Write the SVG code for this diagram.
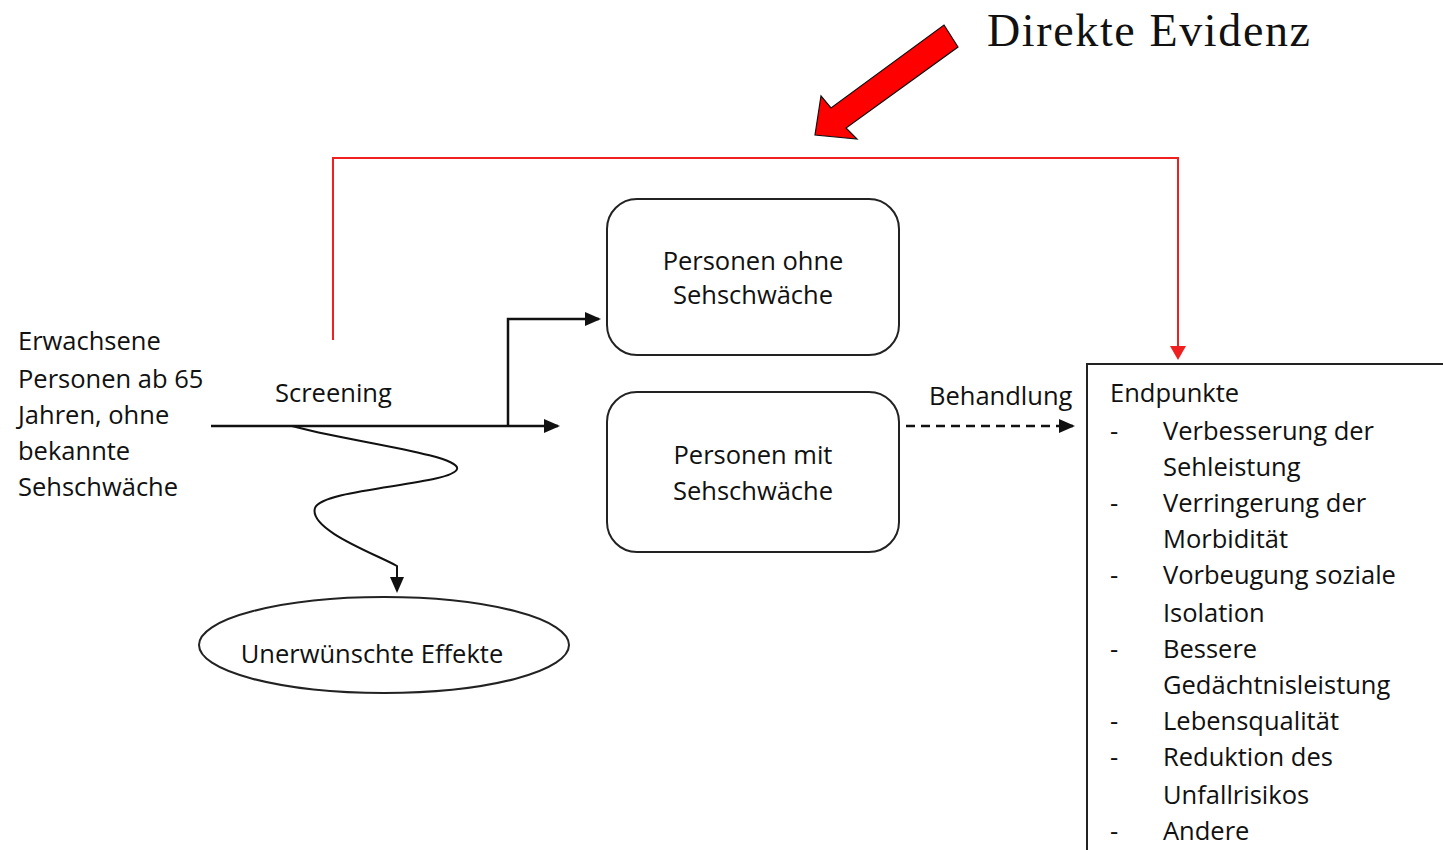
<svg xmlns="http://www.w3.org/2000/svg" width="1443" height="850" viewBox="0 0 1443 850">
<defs>
<style>
.t{font-family:"Open Sans","Liberation Sans",sans-serif;font-size:25.5px;fill:#111}
.c{text-anchor:middle}
.ln{fill:none;stroke:#111;stroke-width:2.5}
.box{fill:#fff;stroke:#222;stroke-width:2}
.red{fill:none;stroke:#f02020;stroke-width:2}
</style>
<marker id="ah" markerWidth="16" markerHeight="14" refX="14" refY="7" orient="auto" markerUnits="userSpaceOnUse"><path d="M0,0 L16,7 L0,14 Z" fill="#111"/></marker>
<marker id="rh" markerWidth="14" markerHeight="16" refX="12" refY="8" orient="auto" markerUnits="userSpaceOnUse"><path d="M0,0 L14,8 L0,16 Z" fill="#f02020"/></marker>
</defs>
<rect width="1443" height="850" fill="#fff"/>
<g id="title">
<polygon points="944,25 958,47 846,128 857,139 815,135 821,96 831,108" fill="#ff0000" stroke="#111" stroke-width="1.2"/>
<text x="987" y="46" font-family="'Liberation Serif',serif" font-size="46" textLength="323" fill="#111">Direkte Evidenz</text>
</g>
<g id="connectors">
<path class="red" d="M333,340 V158 H1178 V358" marker-end="url(#rh)"/>
<path class="ln" d="M211,426 H558" marker-end="url(#ah)"/>
<path class="ln" d="M508,426 V319 H599" marker-end="url(#ah)"/>
<path fill="none" stroke="#111" stroke-width="2" d="M292,426 C340,440 462,455 457,469 C452,485 322,488 315,508 C308,530 378,555 397,566 V591" marker-end="url(#ah)"/>
<path class="ln" d="M906,426 H1073" stroke-dasharray="9,6" marker-end="url(#ah)"/>
<text class="t" x="275" y="402">Screening</text>
<text class="t" x="929" y="405">Behandlung</text>
</g>
<g id="population">
<text class="t" x="18" y="350">Erwachsene</text>
<text class="t" x="18" y="388">Personen ab 65</text>
<text class="t" x="18" y="424">Jahren, ohne</text>
<text class="t" x="18" y="460">bekannte</text>
<text class="t" x="18" y="496">Sehschwäche</text>
</g>
<g id="ohne">
<rect class="box" x="607" y="199" width="292" height="156" rx="30"/>
<text class="t c" x="753" y="270">Personen ohne</text>
<text class="t c" x="753" y="304">Sehschwäche</text>
</g>
<g id="mit">
<rect class="box" x="607" y="392" width="292" height="160" rx="30"/>
<text class="t c" x="753" y="464">Personen mit</text>
<text class="t c" x="753" y="500">Sehschwäche</text>
</g>
<g id="effekte">
<ellipse class="box" cx="384" cy="645" rx="185" ry="48"/>
<text class="t c" x="372" y="663">Unerwünschte Effekte</text>
</g>
<g id="endpunkte">
<rect class="box" x="1087" y="364" width="370" height="500"/>
<text class="t" x="1110" y="402">Endpunkte</text>
<text class="t" x="1110" y="440">-</text><text class="t" x="1163" y="440">Verbesserung der</text>
<text class="t" x="1163" y="476">Sehleistung</text>
<text class="t" x="1110" y="512">-</text><text class="t" x="1163" y="512">Verringerung der</text>
<text class="t" x="1163" y="548">Morbidität</text>
<text class="t" x="1110" y="584">-</text><text class="t" x="1163" y="584">Vorbeugung soziale</text>
<text class="t" x="1163" y="622">Isolation</text>
<text class="t" x="1110" y="658">-</text><text class="t" x="1163" y="658">Bessere</text>
<text class="t" x="1163" y="694">Gedächtnisleistung</text>
<text class="t" x="1110" y="730">-</text><text class="t" x="1163" y="730">Lebensqualität</text>
<text class="t" x="1110" y="766">-</text><text class="t" x="1163" y="766">Reduktion des</text>
<text class="t" x="1163" y="804">Unfallrisikos</text>
<text class="t" x="1110" y="840">-</text><text class="t" x="1163" y="840">Andere</text>
</g>
</svg>
